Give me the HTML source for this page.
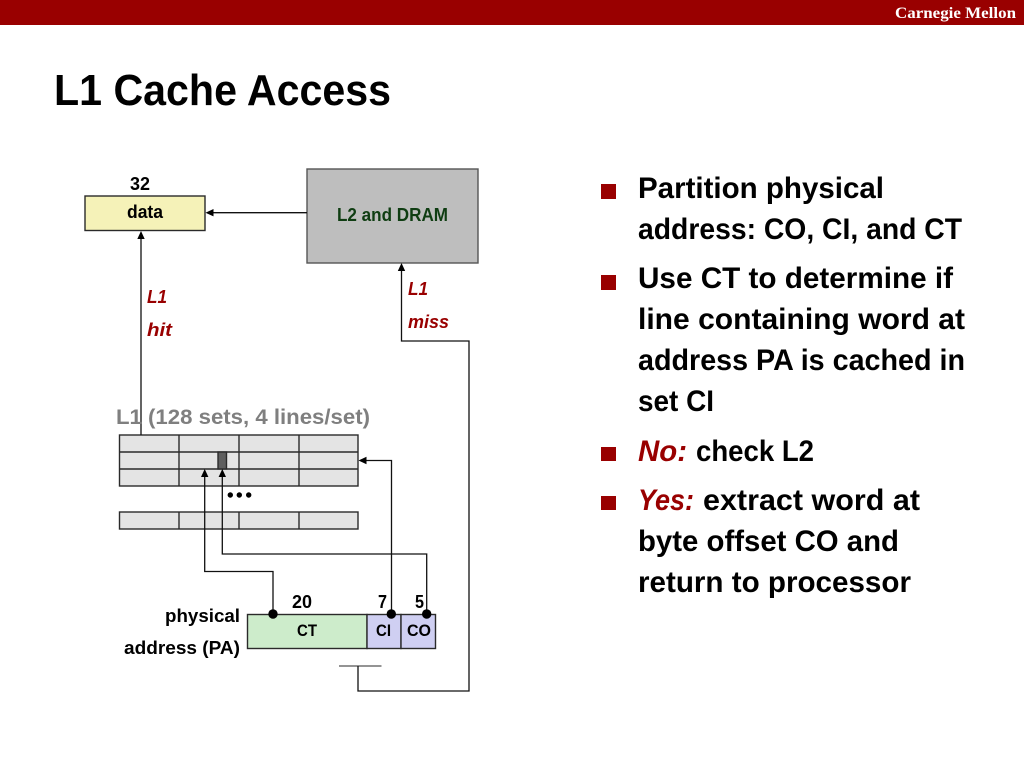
<!DOCTYPE html>
<html lang="en"><head><meta charset="utf-8"><title>L1 Cache Access</title>
<style>
html,body{margin:0;padding:0;background:#fff;width:1024px;height:768px;overflow:hidden}
svg{display:block}
text{font-family:"Liberation Sans",sans-serif;font-weight:bold;fill:#000}
.b{font-size:30px}
.s{font-size:18px}
.t{font-size:17px}
.r{fill:#990000;font-style:italic}
</style></head><body>
<svg width="1024" height="768" viewBox="0 0 1024 768" xmlns="http://www.w3.org/2000/svg">
<rect width="1024" height="25" fill="#990000"/>
<text x="895" y="18" style="font-family:'Liberation Serif',serif;font-size:16px;fill:#fff" textLength="121" lengthAdjust="spacingAndGlyphs">Carnegie Mellon</text>
<text x="54" y="105" style="font-size:44px" textLength="337" lengthAdjust="spacingAndGlyphs">L1 Cache Access</text>

<g stroke="#2a2a2a" stroke-width="1.4">
<rect x="85" y="196" width="120" height="34.5" fill="#f5f2b8"/>
<rect x="307" y="169" width="171" height="94" fill="#bebebe" stroke="#555"/>
<rect x="119.5" y="435" width="238.5" height="51" fill="#e4e4e4"/>
<rect x="119.5" y="512" width="238.5" height="17" fill="#e4e4e4"/>
<path d="M119.5 452H358M119.5 469H358M179 435V486M239 435V486M299 435V486M179 512V529M239 512V529M299 512V529" fill="none"/>
<rect x="218" y="452" width="8.5" height="17" fill="#5f5f5f"/>
<rect x="247.5" y="614.5" width="119.5" height="34" fill="#cdeccb"/>
<rect x="367" y="614.5" width="34" height="34" fill="#cfcff2"/>
<rect x="401" y="614.5" width="34.5" height="34" fill="#cfcff2"/>
</g>

<g fill="none" stroke="#111" stroke-width="1.3">
<path d="M307 212.7H212"/>
<path d="M141 238V435"/>
<path d="M339 666H381.5" stroke="#555"/>
<path d="M358 666V691H469V341H401.5V270"/>
<path d="M273 614V571.5H204.7V476"/>
<path d="M391.5 614V460.5H366"/>
<path d="M426.7 614V554H222.3V476"/>
</g>
<g fill="#000">
<path d="M205.5 212.7l8 -3.7v7.4z"/>
<path d="M141 231l-3.7 8h7.4z"/>
<path d="M401.5 263l-3.7 8h7.4z"/>
<path d="M204.7 469l-3.7 8h7.4z"/>
<path d="M222.3 469l-3.7 8h7.4z"/>
<path d="M358.5 460.5l8 -3.7v7.4z"/>
<circle cx="273" cy="614" r="4.7"/><circle cx="391.3" cy="614" r="4.7"/><circle cx="426.7" cy="614" r="4.7"/>
<circle cx="230.3" cy="495" r="2.7"/><circle cx="239.3" cy="495" r="2.7"/><circle cx="248.7" cy="495" r="2.7"/>
</g>

<text class="s" x="130" y="190" textLength="20" lengthAdjust="spacingAndGlyphs">32</text>
<text class="s" x="127" y="218" textLength="36" lengthAdjust="spacingAndGlyphs">data</text>
<text class="s" x="337" y="221" style="fill:#0f3d12" textLength="111" lengthAdjust="spacingAndGlyphs">L2 and DRAM</text>
<text class="s r" x="147" y="303" textLength="20" lengthAdjust="spacingAndGlyphs">L1</text>
<text class="s r" x="147" y="336" textLength="25" lengthAdjust="spacingAndGlyphs">hit</text>
<text class="s r" x="408" y="295" textLength="20" lengthAdjust="spacingAndGlyphs">L1</text>
<text class="s r" x="408" y="328" textLength="41" lengthAdjust="spacingAndGlyphs">miss</text>
<text x="116" y="424" style="font-size:21px;fill:#7f7f7f" textLength="254" lengthAdjust="spacingAndGlyphs">L1 (128 sets, 4 lines/set)</text>
<text class="s" x="292" y="608" textLength="20" lengthAdjust="spacingAndGlyphs">20</text>
<text class="s" x="378" y="608" textLength="9" lengthAdjust="spacingAndGlyphs">7</text>
<text class="s" x="415" y="608" textLength="9" lengthAdjust="spacingAndGlyphs">5</text>
<text class="t" x="297" y="636" textLength="20" lengthAdjust="spacingAndGlyphs">CT</text>
<text class="t" x="376" y="636" textLength="15" lengthAdjust="spacingAndGlyphs">CI</text>
<text class="t" x="407" y="636" textLength="24" lengthAdjust="spacingAndGlyphs">CO</text>
<text class="s" x="165" y="622" textLength="75" lengthAdjust="spacingAndGlyphs">physical</text>
<text class="s" x="124" y="654" textLength="116" lengthAdjust="spacingAndGlyphs">address (PA)</text>

<g fill="#990000">
<rect x="601" y="184" width="15" height="15"/>
<rect x="601" y="275" width="15" height="15"/>
<rect x="601" y="447" width="15" height="14"/>
<rect x="601" y="496" width="15" height="14"/>
</g>
<text class="b" x="638" y="198" textLength="246" lengthAdjust="spacingAndGlyphs">Partition physical</text>
<text class="b" x="638" y="239" textLength="324" lengthAdjust="spacingAndGlyphs">address: CO, CI, and CT</text>
<text class="b" x="638" y="288" textLength="315" lengthAdjust="spacingAndGlyphs">Use CT to determine if</text>
<text class="b" x="638" y="329" textLength="327" lengthAdjust="spacingAndGlyphs">line containing word at</text>
<text class="b" x="638" y="370" textLength="327" lengthAdjust="spacingAndGlyphs">address PA is cached in</text>
<text class="b" x="638" y="411" textLength="76" lengthAdjust="spacingAndGlyphs">set CI</text>
<text class="b r" x="638" y="461" textLength="49" lengthAdjust="spacingAndGlyphs">No:</text>
<text class="b" x="696" y="461" textLength="118" lengthAdjust="spacingAndGlyphs">check L2</text>
<text class="b r" x="638" y="510" textLength="56" lengthAdjust="spacingAndGlyphs">Yes:</text>
<text class="b" x="703" y="510" textLength="217" lengthAdjust="spacingAndGlyphs">extract word at</text>
<text class="b" x="638" y="551" textLength="261" lengthAdjust="spacingAndGlyphs">byte offset CO and</text>
<text class="b" x="638" y="592" textLength="273" lengthAdjust="spacingAndGlyphs">return to processor</text>
</svg>
</body></html>
